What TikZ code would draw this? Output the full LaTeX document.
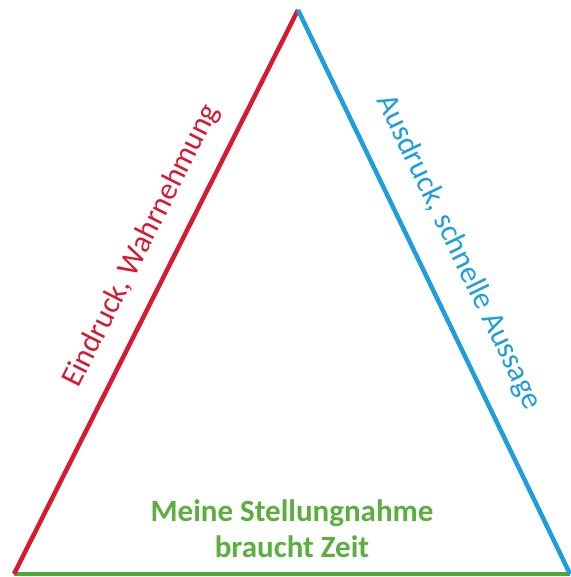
\documentclass[tikz,border=0pt]{standalone}
\usepackage{fontspec}
\setmainfont{Carlito}
\usepackage{tikz}
\usetikzlibrary{calc}
\definecolor{eindruckred}{HTML}{D81A30}
\definecolor{ausdruckblue}{HTML}{1F9DDD}
\definecolor{zeitgreen}{HTML}{4FAA32}
\definecolor{zeittext}{HTML}{5BAE3F}

\begin{document}
\begin{tikzpicture}[x=1pt,y=1pt,
  edge/.style={line width=4.5pt},
  edgelabel/.style={font=\fontsize{31}{36}\selectfont,inner sep=0pt}]
  \useasboundingbox (0,0) rectangle (570,577);
  \coordinate (top) at (298,567);
  \coordinate (L) at (14,3);
  \coordinate (R) at (570,3);
  \draw[edge,zeitgreen] (L)--(R);
  \draw[edge,eindruckred] (L)--(top);
  \draw[edge,ausdruckblue] (top)--(R);
  \path (L)--(top) node[pos=0.555,sloped,above=20pt,edgelabel,eindruckred] (eindruck) {Eindruck, Wahrnehmung};
  \path (top)--(R) node[pos=0.46,sloped,above=26pt,edgelabel,ausdruckblue] (ausdruck) {Ausdruck, schnelle Aussage};
  \path (L)--(R) node[midway,above=16pt,edgelabel,zeittext,align=center,font=\fontsize{31}{36}\selectfont\bfseries] (zeit) {Meine Stellungnahme\\braucht Zeit};
\end{tikzpicture}
\end{document}
